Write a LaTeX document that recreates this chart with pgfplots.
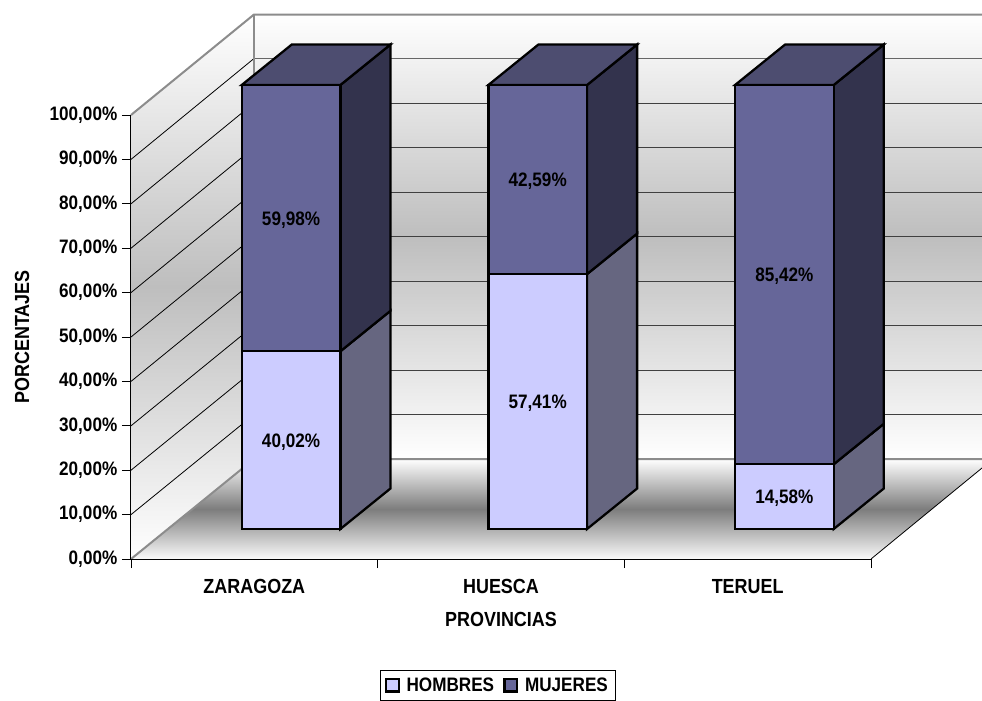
\documentclass[border=0pt]{standalone}
\usepackage{fontspec}
\setmainfont[FakeStretch=0.88]{Liberation Sans}
\usepackage{pgfplots}
\pgfplotsset{compat=1.18}
\newcommand\lb{\fontsize{14.6}{16}\selectfont\bfseries}
\newcommand\lbb{\fontsize{15.3}{17}\selectfont\bfseries}
\definecolor{hom}{RGB}{204,204,255}
\definecolor{homside}{RGB}{102,102,128}
\definecolor{muj}{RGB}{102,102,153}
\definecolor{mujtop}{RGB}{77,77,112}
\definecolor{mujside}{RGB}{51,51,77}
\definecolor{edgegray}{RGB}{140,140,140}
\definecolor{wallmid}{RGB}{190,190,190}
\definecolor{floormid}{RGB}{125,125,125}
\definecolor{floorlow}{RGB}{250,250,250}
\begin{document}
\begin{tikzpicture}
\path[use as bounding box] (0,0) rectangle (736.5pt,-525pt);

% walls and floor, in pixels of the picture
\begin{axis}[
    at={(0pt,-525pt)}, anchor=south west,
    scale only axis, width=736.5pt, height=525pt,
    xmin=0, xmax=982, ymin=0, ymax=700, y dir=reverse,
    hide axis,
]
\addplot[draw=none, top color=white, bottom color=white, middle color=wallmid]
    coordinates {(254,14)(982,14)(982,459)(254,459)} --cycle;
\addplot[draw=none, top color=white, bottom color=white, middle color=wallmid]
    coordinates {(131,115)(254,14)(254,459)(131,559)} --cycle;
\addplot[draw=none, top color=white, bottom color=floorlow, middle color=floormid]
    coordinates {(131,559)(254,459)(982,459)(982,468)(871,559)} --cycle;
% gridlines, side wall
\addplot[black, line width=0.6pt] coordinates {(131,514.6)(254,414.5)};
\addplot[black, line width=0.6pt] coordinates {(131,470.2)(254,370)};
\addplot[black, line width=0.6pt] coordinates {(131,425.8)(254,325.5)};
\addplot[black, line width=0.6pt] coordinates {(131,381.4)(254,281)};
\addplot[black, line width=0.6pt] coordinates {(131,337)(254,236.5)};
\addplot[black, line width=0.6pt] coordinates {(131,292.6)(254,192)};
\addplot[black, line width=0.6pt] coordinates {(131,248.2)(254,147.5)};
\addplot[black, line width=0.6pt] coordinates {(131,203.8)(254,103)};
\addplot[black, line width=0.6pt] coordinates {(131,159.4)(254,58.5)};
% gridlines, back wall
\addplot[black!75, line width=0.75pt] coordinates {(254,414.5)(982,414.5)};
\addplot[black!75, line width=0.75pt] coordinates {(254,370)(982,370)};
\addplot[black!75, line width=0.75pt] coordinates {(254,325.5)(982,325.5)};
\addplot[black!75, line width=0.75pt] coordinates {(254,281)(982,281)};
\addplot[black!75, line width=0.75pt] coordinates {(254,236.5)(982,236.5)};
\addplot[black!75, line width=0.75pt] coordinates {(254,192)(982,192)};
\addplot[black!75, line width=0.75pt] coordinates {(254,147.5)(982,147.5)};
\addplot[black!75, line width=0.75pt] coordinates {(254,103)(982,103)};
\addplot[black!60, line width=0.75pt] coordinates {(254,58.5)(982,58.5)};
% frame
\addplot[edgegray, line width=1.5pt] coordinates {(131,115)(254,14.5)(982,14.5)};
\addplot[edgegray, line width=1.5pt] coordinates {(254,14.5)(254,459)};
\addplot[edgegray, line width=1.5pt] coordinates {(131,559)(254,459)(982,459)};
\addplot[black, line width=0.6pt] coordinates {(871,559)(982,468)};
\end{axis}

% the value axes
\begin{axis}[
    at={(98.25pt,-419.25pt)}, anchor=south west,
    scale only axis, width=555pt, height=333pt,
    xmin=0, xmax=3, ymin=0, ymax=100,
    axis x line*=bottom, axis y line*=left,
    axis line style={-, black, line width=0.75pt},
    xtick={0.5,1.5,2.5},
    xticklabels={ZARAGOZA,HUESCA,TERUEL},
    minor xtick={0,1,2,3},
    ytick={0,10,...,100},
    tick align=outside,
    major x tick style={draw=none},
    minor tick length=6.75pt,
    major tick length=6.75pt,
    tick style={black, line width=0.6pt},
    tick label style={font=\lb},
    xticklabel style={yshift=-5pt, font=\lbb},
    yticklabel={\pgfmathprintnumber[fixed,fixed zerofill,precision=2,use comma,assume math mode=true]{\tick}\%},
    xlabel={PROVINCIAS},
    ylabel={PORCENTAJES},
    label style={font=\lbb},
    xlabel style={at={(axis description cs:0.5,-0.137)},anchor=center},
    ylabel style={at={(axis description cs:-0.147,0.5)},anchor=center},
]
\end{axis}

% sides and tops of the columns
\begin{axis}[
    at={(125.78pt,-396.75pt)}, anchor=south west,
    scale only axis, width=555pt, height=333pt,
    xmin=0, xmax=3, ymin=0, ymax=100,
    hide axis, clip=false,
]
\addplot[fill=homside, draw=black, line width=1.7pt] coordinates {(0.70,0)(0.903,9.12)(0.903,49.14)(0.70,40.02)} --cycle;
\addplot[fill=mujside, draw=black, line width=1.7pt] coordinates {(0.70,40.02)(0.903,49.14)(0.903,109.12)(0.70,100)} --cycle;
\addplot[fill=mujtop, draw=black, line width=1.7pt] coordinates {(0.30,100)(0.503,109.12)(0.903,109.12)(0.70,100)} --cycle;
\addplot[fill=homside, draw=black, line width=1.7pt] coordinates {(1.70,0)(1.903,9.12)(1.903,66.53)(1.70,57.41)} --cycle;
\addplot[fill=mujside, draw=black, line width=1.7pt] coordinates {(1.70,57.41)(1.903,66.53)(1.903,109.12)(1.70,100)} --cycle;
\addplot[fill=mujtop, draw=black, line width=1.7pt] coordinates {(1.30,100)(1.503,109.12)(1.903,109.12)(1.70,100)} --cycle;
\addplot[fill=homside, draw=black, line width=1.7pt] coordinates {(2.70,0)(2.903,9.12)(2.903,23.70)(2.70,14.58)} --cycle;
\addplot[fill=mujside, draw=black, line width=1.7pt] coordinates {(2.70,14.58)(2.903,23.70)(2.903,109.12)(2.70,100)} --cycle;
\addplot[fill=mujtop, draw=black, line width=1.7pt] coordinates {(2.30,100)(2.503,109.12)(2.903,109.12)(2.70,100)} --cycle;
\end{axis}

% front faces
\begin{axis}[
    at={(125.78pt,-396.75pt)}, anchor=south west,
    scale only axis, width=555pt, height=333pt,
    xmin=0, xmax=3, ymin=0, ymax=100,
    hide axis, clip=false,
    ybar stacked, bar width=74pt,
    legend image code/.code={\draw[#1, line width=1.7pt] (0pt,-4.5pt) rectangle (9.5pt,5pt);},
    legend columns=2,
    legend style={
        at={(axis description cs:0.446,-0.3176)}, anchor=north,
        font=\lb, draw=black, line width=0.6pt,
        inner xsep=3.5pt, inner ysep=3.5pt,
        /tikz/every odd column/.append style={column sep=3pt},
        /tikz/every even column/.append style={column sep=5pt},
    },
]
\addplot[fill=hom, draw=black, line width=1.7pt] coordinates {(0.5,40.02)(1.5,57.41)(2.5,14.58)};
\addplot[fill=muj, draw=black, line width=1.7pt] coordinates {(0.5,59.98)(1.5,42.59)(2.5,85.42)};
\legend{HOMBRES,MUJERES}
\end{axis}

% value labels, last so that they lie over the bars
\begin{axis}[
    at={(125.78pt,-396.75pt)}, anchor=south west,
    scale only axis, width=555pt, height=333pt,
    xmin=0, xmax=3, ymin=0, ymax=100,
    hide axis, clip=false,
]
\node[font=\lb, yshift=-1.2pt] at (axis cs:0.5,20.01) {40,02\%};
\node[font=\lb, yshift=-1.2pt] at (axis cs:0.5,70.01) {59,98\%};
\node[font=\lb, yshift=-1.2pt] at (axis cs:1.5,28.7) {57,41\%};
\node[font=\lb, yshift=-1.2pt] at (axis cs:1.5,78.7) {42,59\%};
\node[font=\lb, yshift=-1.2pt] at (axis cs:2.5,7.29) {14,58\%};
\node[font=\lb, yshift=-1.2pt] at (axis cs:2.5,57.29) {85,42\%};
\end{axis}
\end{tikzpicture}
\end{document}
